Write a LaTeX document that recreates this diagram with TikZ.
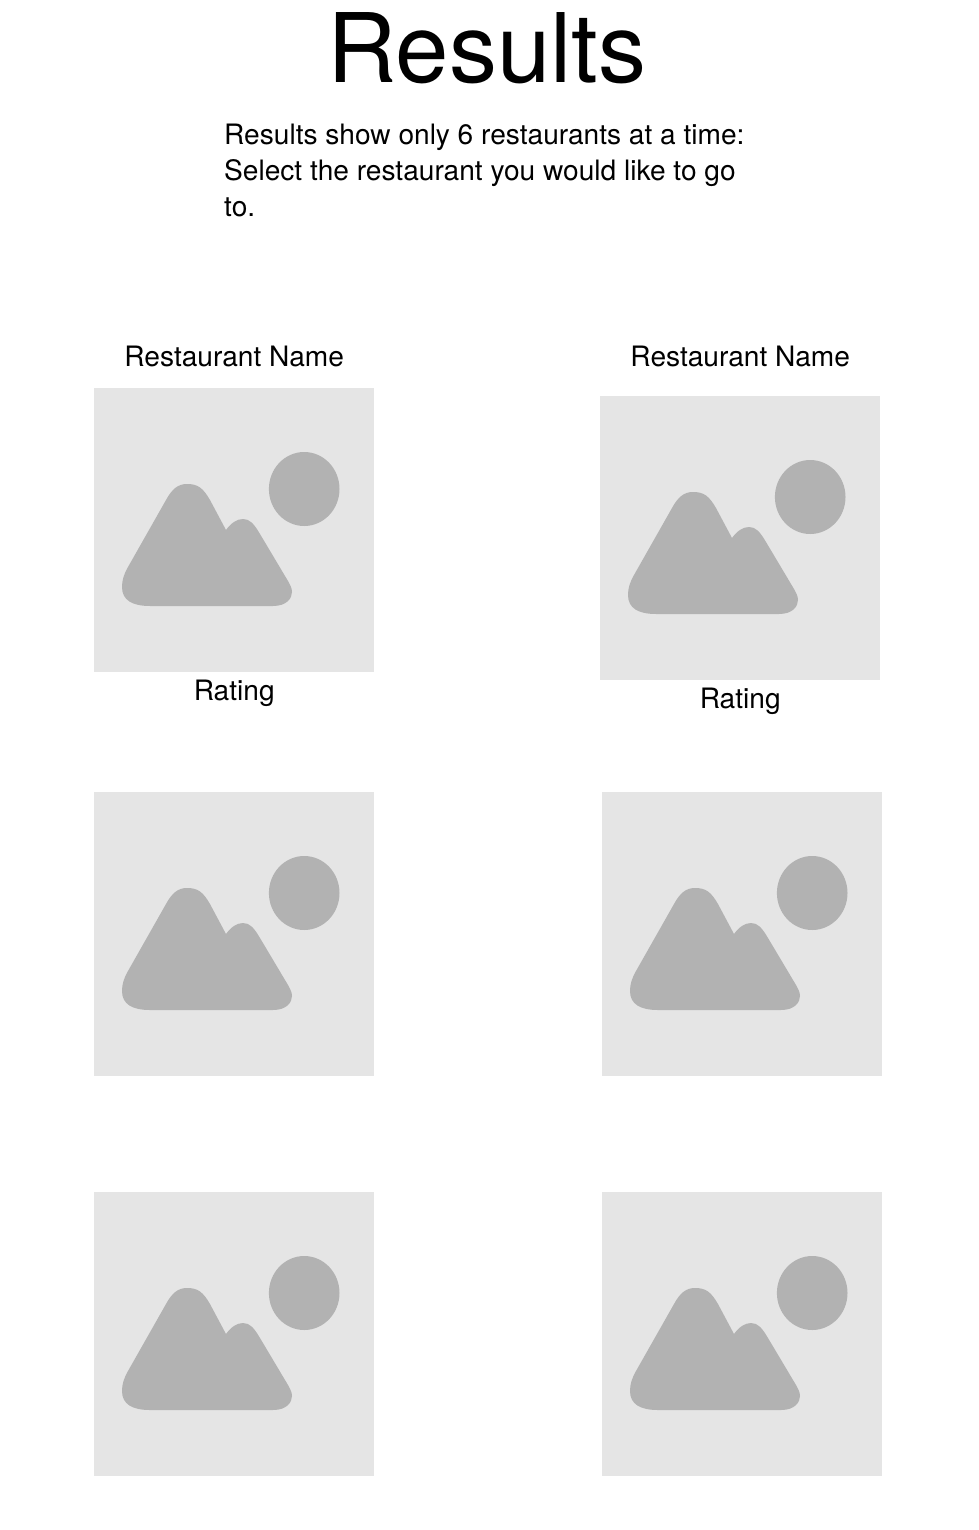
\documentclass[tikz,border=0pt]{standalone}
\usepackage{fontspec}
\setmainfont{TeX Gyre Heros}
\usepackage{xcolor}
\usepackage{tikz}
\usetikzlibrary{positioning}

\definecolor{photobg}{HTML}{E5E5E5}
\definecolor{photofg}{HTML}{B2B2B2}

\begin{document}
\begin{tikzpicture}[
  x=1pt, y=-1pt,
  photo/.style = {rectangle, fill=photobg, inner sep=0pt, minimum width=280pt, minimum height=284pt, anchor=north west},
  caption/.style = {font=\fontsize{28.1}{34}\selectfont, inner sep=0pt},
  scenery/.pic = {
    \fill[photofg] (210.2,101) circle [x radius=35.3, y radius=37];
    \fill[photofg] (56,218) -- (179,218)
      .. controls (193,218) and (198,210) .. (198,204)
      .. controls (198,200) and (196,197) .. (194,193)
      -- (166,146)
      .. controls (160,136) and (156,131) .. (149,131)
      .. controls (143,131) and (137,135) .. (132,142)
      -- (116,112)
      .. controls (109,100) and (104,96) .. (93,96)
      .. controls (84,96) and (78,101) .. (72,112)
      -- (34,179)
      .. controls (30,186) and (28,192) .. (28,199)
      .. controls (28,212) and (38,218) .. (56,218) -- cycle;
  }
]
\useasboundingbox (0,0) rectangle (978,1530);

\node[font=\fontsize{96}{96}\selectfont, inner sep=0pt, anchor=base] (title) at (487,83) {Results};
\node[font=\fontsize{28.1}{36}\selectfont, inner sep=0pt, align=left, anchor=north west] (intro) at (224,124) {Results show only 6 restaurants at a time:\\Select the restaurant you would like to go\\to.};

\node[photo] (photo1) at (94,388) {};
\node[photo] (photo2) at (600,396) {};
\node[photo] (photo3) at (94,792) {};
\node[photo] (photo4) at (602,792) {};
\node[photo] (photo5) at (94,1192) {};
\node[photo] (photo6) at (602,1192) {};

\pic at (photo1.north west) {scenery};
\pic at (photo2.north west) {scenery};
\pic at (photo3.north west) {scenery};
\pic at (photo4.north west) {scenery};
\pic at (photo5.north west) {scenery};
\pic at (photo6.north west) {scenery};

\node[caption, above=22pt of photo1.north, anchor=base] (name1) {Restaurant Name};
\node[caption, above=30pt of photo2.north, anchor=base] (name2) {Restaurant Name};
\node[caption, below=28pt of photo1.south, anchor=base] (rating1) {Rating};
\node[caption, below=28pt of photo2.south, anchor=base] (rating2) {Rating};

\end{tikzpicture}
\end{document}
